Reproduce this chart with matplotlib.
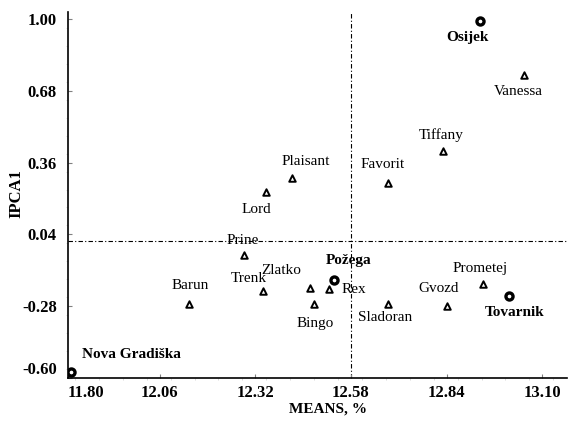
import numpy as np
import matplotlib
matplotlib.use("Agg")
import matplotlib.pyplot as plt
from matplotlib.ticker import MultipleLocator

# --- data: cultivars (triangles) and locations (circles) ---
cult_names = ["Vanessa", "Tiffany", "Favorit", "Plaisant", "Lord", "Prine", "Trenk",
              "Barun", "Zlatko", "Bingo", "Rex", "Sladoran", "Gvozd", "Prometej"]
cult_x = [13.05, 12.83, 12.68, 12.42, 12.35, 12.29, 12.34,
          12.14, 12.47, 12.48, 12.52, 12.68, 12.84, 12.94]
cult_y = [0.75, 0.41, 0.27, 0.29, 0.23, -0.05, -0.21,
          -0.27, -0.20, -0.27, -0.205, -0.27, -0.28, -0.18]

loc_names = ["Osijek", "Nova Gradiška", "Požega", "Tovarnik"]
loc_x = [12.93, 11.82, 12.535, 13.01]
loc_y = [0.99, -0.575, -0.165, -0.235]

grand_mean = 12.58
ipca_zero = 0.01

# label offsets in points (dx, dy)
cult_off = [(-4, -12), (-1, 12), (-4, 13), (10, 12), (-7, -13), (-1, 10), (-10, 9),
            (1, 13), (-21, 13), (1, -14), (18, 0), (-2, -10), (-6, 13), (-2, 11)]
loc_off = [(-9, -12), (8, 13), (10, 14), (4, -12)]

plt.rcParams['font.family'] = ['Liberation Serif', 'DejaVu Serif']

fig = plt.figure(figsize=(5.86, 4.21), dpi=100)
ax = fig.add_axes([0.116, 0.102, 0.852, 0.869])

ax.axvline(grand_mean, color="black", lw=0.8, ls=(0, (4, 2, 1, 2)), zorder=1)
ax.axhline(ipca_zero, color="black", lw=0.8, ls=(0, (4, 2, 1, 2)), zorder=1)

ax.scatter(cult_x, cult_y, marker="^", s=22, facecolor="white", edgecolor="black",
           linewidths=1.4, zorder=3)
ax.scatter(loc_x, loc_y, marker="o", s=26, facecolor="white", edgecolor="black",
           linewidths=2.4, zorder=3)

for name, x, y, (dx, dy) in zip(cult_names, cult_x, cult_y, cult_off):
    ax.annotate(name, (x, y), xytext=(dx, dy), textcoords="offset points",
                ha="center", va="center", fontsize=11)
for name, x, y, (dx, dy) in zip(loc_names, loc_x, loc_y, loc_off):
    ha = "left" if name == "Nova Gradiška" else "center"
    ax.annotate(name, (x, y), xytext=(dx, dy), textcoords="offset points",
                ha=ha, va="center", fontsize=11, fontweight="bold")

ax.set_xlim(11.811, 13.168)
ax.set_ylim(-0.60, 1.03)
ax.set_xticks([11.811, 12.06, 12.32, 12.58, 12.84, 13.10])
ax.set_yticks([1.00, 0.68, 0.36, 0.04, -0.28, -0.60])
ax.xaxis.set_minor_locator(MultipleLocator(0.065))
ax.yaxis.set_minor_locator(MultipleLocator(0.08))
ax.set_xticklabels(["11.80", "12.06", "12.32", "12.58", "12.84", "13.10"],
                   fontweight="bold", fontsize=12)
ax.set_yticklabels(["1.00", "0.68", "0.36", "0.04", "-0.28", "-0.60"],
                   fontweight="bold", fontsize=12)
ax.get_xticklabels()[0].set_horizontalalignment("left")
ax.get_yticklabels()[-1].set_verticalalignment("bottom")
ax.tick_params(which="major", direction="in", length=3, color="gray")
ax.tick_params(axis="x", which="major", pad=5)
ax.tick_params(axis="y", which="major", pad=8)
ax.tick_params(which="minor", direction="out", length=1.5, color="lightgray")

for s in ["top", "right"]:
    ax.spines[s].set_visible(False)
ax.spines["left"].set_linewidth(1.2)
ax.spines["bottom"].set_linewidth(1.2)

ax.set_xlabel("MEANS, %", fontweight="bold", fontsize=11)
ax.set_ylabel("IPCA1", fontweight="bold", fontsize=12)
ax.xaxis.set_label_coords(0.521, -0.068)
ax.yaxis.set_label_coords(-0.088, 0.504)

fig.savefig("out.png", dpi=100)
